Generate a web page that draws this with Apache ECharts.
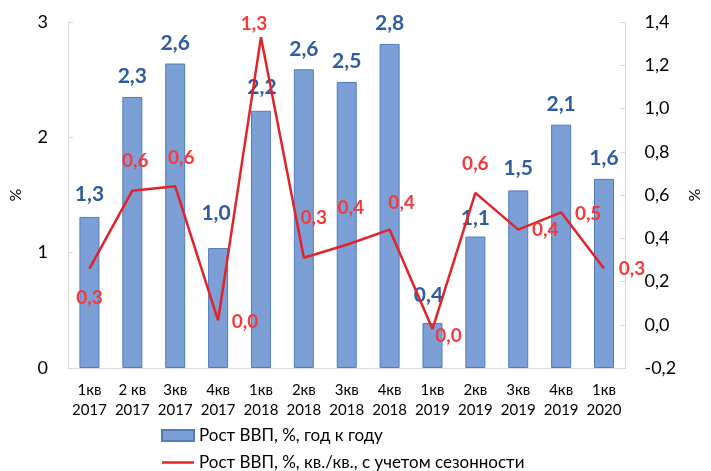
<!DOCTYPE html>
<html>
<head>
<meta charset="utf-8">
<script src="https://cdn.jsdelivr.net/npm/echarts@6/dist/echarts.min.js"></script>
<style>html,body{margin:0;padding:0;background:#fff}#c{width:711px;height:471px}</style>
</head>
<body>
<div id="c"></div>
<script>
var categories = ['1кв\n2017','2 кв\n2017','3кв\n2017','4кв\n2017','1кв\n2018','2кв\n2018','3кв\n2018','4кв\n2018','1кв\n2019','2кв\n2019','3кв\n2019','4кв\n2019','1кв\n2020'];
var yoyGrowth = [1.31, 2.35, 2.64, 1.04, 2.23, 2.59, 2.48, 2.81, 0.39, 1.14, 1.54, 2.11, 1.64];
var yoyLabels = ['1,3','2,3','2,6','1,0','2,2','2,6','2,5','2,8','0,4','1,1','1,5','2,1','1,6'];
var qoqGrowth = [0.26, 0.62, 0.64, 0.02, 1.33, 0.31, 0.37, 0.44, -0.02, 0.61, 0.44, 0.52, 0.26];
var qoqLabels = ['0,3','0,6','0,6','0,0','1,3','0,3','0,4','0,4','0,0','0,6','0,4','0,5','0,3'];
var leftTicks = [0, 1, 2, 3];
var rightTicks = [-0.2, 1.4, 0.2];
var seriesNames = ['Рост ВВП, %, год к году', 'Рост ВВП, %, кв./кв., с учетом сезонности'];

var FONT = 'Lato';
var RED = '#E2232A';
// label layout offsets (presentation only)
var barLabelOffsets = [[0,-2],[0,0],[0,0],[-2,-14],[1,-3],[0,0],[0,0],[0,0],[-4,-7],[0,2],[0,-2],[0,0],[0,0]];
var lineLabelOffsets = [[0,29],[3,-30],[6,-28],[27,1],[-7,-13],[10,-40],[4,-37],[12,-27],[16,7],[0,-29],[27,0],[27,2],[28,0]];

var lineLabelStyle = {show: true, position: 'inside', fontFamily: FONT, fontSize: 19, fontWeight: 'bold', color: '#F5393B'};

var barData = yoyGrowth.map(function(v,i){
  return {value: v, label: {offset: barLabelOffsets[i], formatter: yoyLabels[i]}};
});
var lineData = qoqGrowth.map(function(v,i){
  return {value: v, label: Object.assign({}, lineLabelStyle, {offset: lineLabelOffsets[i], formatter: qoqLabels[i]})};
});

var chart = echarts.init(document.getElementById('c'), null, {renderer:'canvas'});
chart.setOption({
  animation: false,
  textStyle: {fontFamily: FONT},
  grid: {left: 60, right: 68, top: 22, bottom: 103},
  legend: {
    orient: 'vertical', left: 161, top: 427, height: 80, padding: 0, itemWidth: 32, itemHeight: 11, itemGap: 10,
    textStyle: {fontFamily: FONT, fontSize: 17, color: '#000', lineHeight: 14},
    data: [
      {name: seriesNames[0], icon: 'rect'},
      {name: seriesNames[1], icon: 'path://M0,0 L32,0 L32,2.5 L0,2.5 Z', itemStyle: {color: RED, opacity: 1}}
    ]
  },
  xAxis: {
    type: 'category', data: categories,
    axisLine: {lineStyle: {color: '#d9d9d9', width: 1}},
    axisTick: {show: false},
    axisLabel: {fontFamily: FONT, fontSize: 15, color: '#000', lineHeight: 20, margin: 12, interval: 0}
  },
  yAxis: [{
    type: 'value', min: leftTicks[0], max: leftTicks[leftTicks.length-1], interval: 1,
    name: '%', nameLocation: 'middle', nameGap: 44,
    nameTextStyle: {fontFamily: FONT, fontSize: 16, color: '#000'},
    axisLine: {show: true, lineStyle: {color: '#d9d9d9'}},
    axisTick: {show: true, inside: true, length: 5, lineStyle: {color: '#d9d9d9'}},
    splitLine: {show: false},
    axisLabel: {fontFamily: FONT, fontSize: 18, color: '#000', margin: 20}
  },{
    type: 'value', min: rightTicks[0], max: rightTicks[1], interval: rightTicks[2],
    name: '%', nameLocation: 'middle', nameGap: 56,
    nameTextStyle: {fontFamily: FONT, fontSize: 16, color: '#000'},
    axisLine: {show: true, lineStyle: {color: '#d9d9d9'}},
    axisTick: {show: true, inside: true, length: 5, lineStyle: {color: '#d9d9d9'}},
    splitLine: {show: false},
    axisLabel: {fontFamily: FONT, fontSize: 18, color: '#000', margin: 19,
      formatter: function(v){ return v.toFixed(1).replace('.', ','); }}
  }],
  series: [{
    name: seriesNames[0], type: 'bar', data: barData, barWidth: 20,
    itemStyle: {color: '#7C9FD6', borderColor: '#4F7CC0', borderWidth: 1},
    label: {show: true, position: 'top', distance: 10, fontFamily: FONT, fontSize: 21, fontWeight: 'bold', color: '#2E5C9E'},
    z: 2
  },{
    name: seriesNames[1], type: 'line', yAxisIndex: 1, data: lineData,
    showSymbol: true, symbol: 'circle', symbolSize: 8,
    lineStyle: {color: RED, width: 2.5},
    itemStyle: {color: 'rgba(0,0,0,0)', borderWidth: 0},
    label: lineLabelStyle,
    z: 3
  }]
});
</script>
</body>
</html>
